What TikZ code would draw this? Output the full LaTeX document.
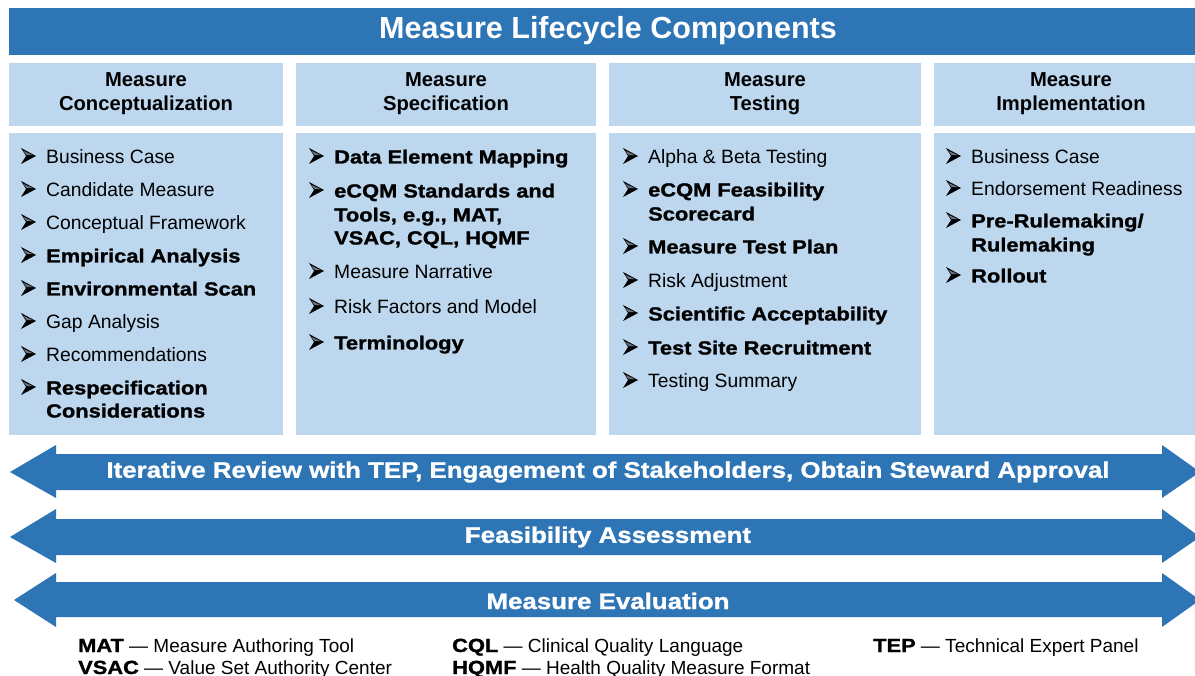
\documentclass[tikz,border=0pt]{standalone}
\usepackage{fontspec}
\setmainfont{Liberation Sans}
\newfontfamily\heavy{Liberation Sans}[BoldFeatures={FakeStretch=1.15,FakeBold=1.2}]
\definecolor{dblue}{HTML}{2E75B6}
\definecolor{lblue}{HTML}{BDD7EE}
\definecolor{bulhi}{HTML}{6A7480}
\newcommand\hv[1]{{\heavy\bfseries #1}}
\begin{document}
\begin{tikzpicture}[x=1pt,y=-1pt,
  hdr/.style={fill=lblue,draw=none},
  cbox/.style={fill=lblue,draw=none},
  band/.style={fill=dblue,draw=none},
  htext/.style={font=\fontsize{20.2}{24}\selectfont\bfseries,align=center,text=black},
  itm/.style={anchor=west,inner sep=0pt,yshift=-2pt,font=\fontsize{19.3}{19}\selectfont,text height=13pt,text depth=4pt},
  itmb/.style={itm,font=\heavy\fontsize{19}{19}\selectfont\bfseries},
  atext/.style={text=white,font=\heavy\fontsize{22.5}{22}\selectfont\bfseries},
  leg/.style={anchor=base west,inner sep=0pt,font=\fontsize{19}{19}\selectfont},
  arrbul/.pic={
    \fill[black] (0,-8) -- (15,0) -- (0,8) -- (5,0) -- cycle;
    \fill[bulhi] (2.2,-5.2) -- (12,-0.8) -- (5.6,-0.8) -- cycle;
  }
]
\useasboundingbox (0,0) rectangle (1195,676);
\fill[white] (0,0) rectangle (1195,676);
% title
\fill[band] (9,8) rectangle (1195,55);
\node[text=white,font=\fontsize{30.5}{30}\selectfont\bfseries] (title) at (608,31) {Measure Lifecycle Components};
% headers
\fill[hdr] (9,63) rectangle (283,126);
\fill[hdr] (296,63) rectangle (596,126);
\fill[hdr] (609,63) rectangle (921,126);
\fill[hdr] (934,63) rectangle (1195,126);
\node[htext] (h1) at (146,94) {Measure\\Conceptualization};
\node[htext] (h2) at (446,94) {Measure\\Specification};
\node[htext] (h3) at (765,94) {Measure\\Testing};
\node[htext] (h4) at (1071,94) {Measure\\Implementation};
% content boxes
\fill[cbox] (9,133) rectangle (283,435);
\fill[cbox] (296,133) rectangle (596,435);
\fill[cbox] (609,133) rectangle (921,435);
\fill[cbox] (934,133) rectangle (1195,435);
% column 1
\foreach \y in {156,189,222,255,288,321,354,387}{\pic at (21,\y) {arrbul};}
\node[itm]  (c1a) at (46,157) {Business Case};
\node[itm]  (c1b) at (46,190) {Candidate Measure};
\node[itm]  (c1c) at (46,223) {Conceptual Framework};
\node[itmb] (c1d) at (46,256) {Empirical Analysis};
\node[itmb] (c1e) at (46,289) {Environmental Scan};
\node[itm]  (c1f) at (46,322) {Gap Analysis};
\node[itm]  (c1g) at (46,355) {Recommendations};
\node[itmb] (c1h) at (46,388) {Respecification};
\node[itmb] (c1i) at (46,411) {Considerations};
% column 2
\foreach \y in {156,190,271,306,342}{\pic at (309,\y) {arrbul};}
\node[itmb] (c2a) at (334,157) {Data Element Mapping};
\node[itmb] (c2b) at (334,191) {eCQM Standards and};
\node[itmb] (c2c) at (334,215) {Tools, e.g., MAT,};
\node[itmb] (c2d) at (334,238) {VSAC, CQL, HQMF};
\node[itm]  (c2e) at (334,272) {Measure Narrative};
\node[itm]  (c2f) at (334,307) {Risk Factors and Model};
\node[itmb] (c2g) at (334,343) {Terminology};
% column 3
\foreach \y in {156,189,246,280,313,347,380}{\pic at (623,\y) {arrbul};}
\node[itm]  (c3a) at (648,157) {Alpha \& Beta Testing};
\node[itmb] (c3b) at (648,190) {eCQM Feasibility};
\node[itmb] (c3c) at (648,214) {Scorecard};
\node[itmb] (c3d) at (648,247) {Measure Test Plan};
\node[itm]  (c3e) at (648,281) {Risk Adjustment};
\node[itmb] (c3f) at (648,314) {Scientific Acceptability};
\node[itmb] (c3g) at (648,348) {Test Site Recruitment};
\node[itm]  (c3h) at (648,381) {Testing Summary};
% column 4
\foreach \y in {156,188,220,275}{\pic at (946,\y) {arrbul};}
\node[itm]  (c4a) at (971,157) {Business Case};
\node[itm]  (c4b) at (971,189) {Endorsement Readiness};
\node[itmb] (c4c) at (971,221) {Pre-Rulemaking/};
\node[itmb] (c4d) at (971,245) {Rulemaking};
\node[itmb] (c4e) at (971,276) {Rollout};
% arrows
\fill[band] (10,472) -- (56,445) -- (56,454) -- (1162,454) -- (1162,445) -- (1200,472) -- (1162,498) -- (1162,490) -- (56,490) -- (56,498) -- cycle;
\fill[band] (10,537) -- (56,509) -- (56,519) -- (1162,519) -- (1162,509) -- (1200,537) -- (1162,563) -- (1162,555) -- (56,555) -- (56,563) -- cycle;
\fill[band] (14,600) -- (56,573) -- (56,582) -- (1162,582) -- (1162,573) -- (1200,600) -- (1162,627) -- (1162,617) -- (56,617) -- (56,627) -- cycle;
\node[atext] (a1) at (608,472) {Iterative Review with TEP, Engagement of Stakeholders, Obtain Steward Approval};
\node[atext] (a2) at (608,537) {Feasibility Assessment};
\node[atext] (a3) at (608,601) {Measure Evaluation};
% legend
\node[leg] (l1) at (78,652) {\hv{MAT} — Measure Authoring Tool};
\node[leg] (l2) at (78,674) {\hv{VSAC} — Value Set Authority Center};
\node[leg] (l3) at (452,652) {\hv{CQL} — Clinical Quality Language};
\node[leg] (l4) at (452,674) {\hv{HQMF} — Health Quality Measure Format};
\node[leg] (l5) at (873,652) {\hv{TEP} — Technical Expert Panel};
\end{tikzpicture}
\end{document}
